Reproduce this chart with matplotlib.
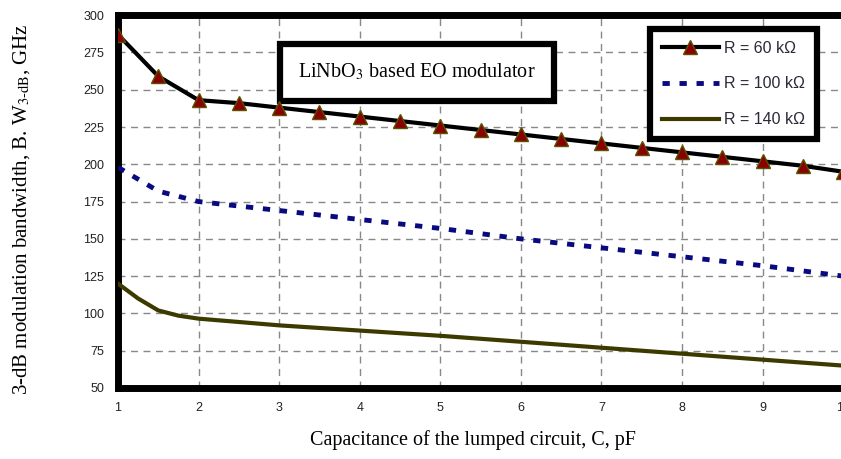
import matplotlib.pyplot as plt

plt.rcParams['mathtext.fontset'] = 'stix'

# data
c_60 = [1, 1.5, 2, 2.5, 3, 3.5, 4, 4.5, 5, 5.5, 6, 6.5, 7, 7.5, 8, 8.5, 9, 9.5, 10]
bw_60 = [287, 259, 243, 241, 238, 235, 232, 229, 226, 223, 220, 217, 214, 211, 208, 205, 202, 199, 195]
c_100 = [1, 1.5, 2, 3, 4, 5, 6, 7, 8, 9, 10]
bw_100 = [198, 182, 175, 169, 163, 157, 150, 144, 138, 132, 125]
c_140 = [1, 1.25, 1.5, 1.75, 2, 3, 4, 5, 6, 7, 8, 9, 10]
bw_140 = [120, 110, 102, 98.5, 96.5, 92, 88.5, 85, 81, 77, 73, 69, 65]
x_ticks = [1, 2, 3, 4, 5, 6, 7, 8, 9, 10]
y_ticks = [50, 75, 100, 125, 150, 175, 200, 225, 250, 275, 300]

fig = plt.figure(figsize=(8.41, 4.59), dpi=100)
ax = fig.add_axes([0.1403, 0.1547, 0.8623, 0.8123])

ax.plot(c_60, bw_60, color='black', lw=3, marker='^', markersize=10,
        markerfacecolor='#8b0000', markeredgecolor='#5a5200', label='R = 60 kΩ', zorder=4)
ax.plot(c_100, bw_100, color='#0a0a80', lw=3.5, linestyle=(0, (1.5, 2)),
        label='R = 100 kΩ', zorder=3)
ax.plot(c_140, bw_140, color='#3d3a00', lw=3, label='R = 140 kΩ', zorder=3)

ax.set_xlim(1, 10)
ax.set_ylim(50, 300)
ax.set_xticks(x_ticks)
ax.set_yticks(y_ticks)
ax.tick_params(length=0, labelsize=9, pad=10, labelcolor='#222222')
for lab in ax.get_xticklabels() + ax.get_yticklabels():
    lab.set_family('Liberation Sans')
ax.grid(True, color='#888888', linestyle=(0, (5, 4)), lw=1)
for s in ax.spines.values():
    s.set_linewidth(5)
    s.set_color('black')

ax.set_xlabel('Capacitance of the lumped circuit, C, pF', family='Liberation Serif',
              fontsize=14.5, labelpad=12)
ax.set_ylabel('3-dB modulation bandwidth, B. W$_{3\\text{-dB}}$, GHz', family='Liberation Serif',
              fontsize=15, labelpad=37)
ax.xaxis.label.set_x(0.49)
ax.yaxis.label.set_y(0.48)

ax.text(0.412, 0.847, 'LiNbO$_3$ based EO modulator', transform=ax.transAxes,
        family='Liberation Serif', fontsize=14.5, va='center', ha='center',
        bbox=dict(boxstyle='square,pad=0.9', fc='white', ec='black', lw=4.5))

leg = ax.legend(loc='upper right', bbox_to_anchor=(0.975, 0.985),
                prop={'family': 'Liberation Sans', 'size': 11.5},
                handlelength=3.6, handletextpad=0.3, labelspacing=1.3, borderpad=0.75,
                fancybox=False, edgecolor='black', framealpha=1)
leg.get_frame().set_linewidth(4.5)
for t in leg.get_texts():
    t.set_color('#2a2a3a')

fig.savefig('out.png', dpi=100)
